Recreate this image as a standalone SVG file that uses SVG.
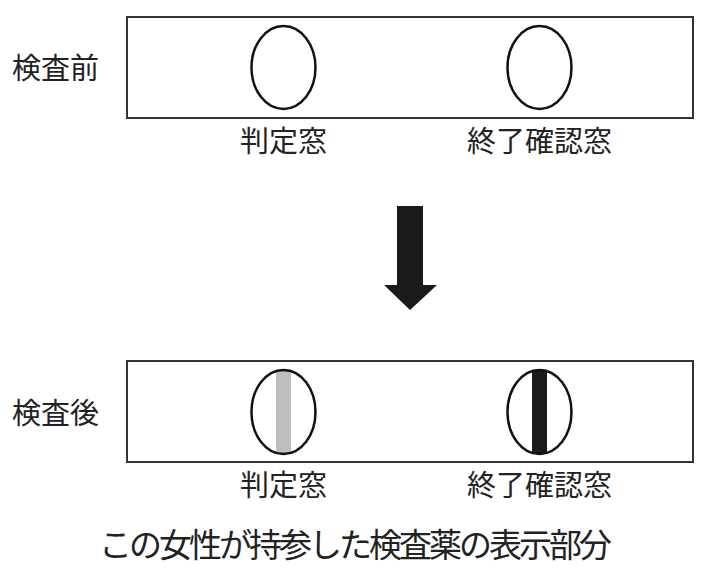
<svg xmlns="http://www.w3.org/2000/svg" width="709" height="578" viewBox="0 0 709 578">
<style>
.lbl{font-family:"Noto Sans CJK JP","Noto Sans CJK SC",sans-serif;font-size:29px;fill:#222}
.cap{font-family:"Noto Sans CJK JP","Noto Sans CJK SC",sans-serif;font-size:33px;letter-spacing:-3px;fill:#222}
.box{fill:#fff;stroke:#333;stroke-width:2}
.win{fill:#fff;stroke:#111;stroke-width:2.5}
.ring{fill:none;stroke:#111;stroke-width:2.5}
</style>
<rect width="709" height="578" fill="#fff"/>
<g id="before">
<text class="lbl" x="12" y="79">検査前</text>
<rect class="box" x="127" y="17" width="566" height="101"/>
<ellipse class="win" cx="283.5" cy="67.5" rx="32" ry="41.5"/>
<ellipse class="win" cx="539.5" cy="67.5" rx="32" ry="41.5"/>
<text class="lbl" x="283.5" y="152" text-anchor="middle">判定窓</text>
<text class="lbl" x="539.5" y="152" text-anchor="middle">終了確認窓</text>
</g>
<g id="connectors">
<polygon points="397,206 423,206 423,285 437,285 410,310 384,285 397,285" fill="#1a1a1a"/>
</g>
<g id="after">
<text class="lbl" x="12" y="424">検査後</text>
<rect class="box" x="127" y="361" width="566" height="101"/>
<rect x="276" y="370" width="15" height="84" fill="#bcbec0"/>
<ellipse class="ring" cx="283.5" cy="412" rx="32" ry="42"/>
<rect x="532" y="370" width="15" height="84" fill="#1a1a1a"/>
<ellipse class="ring" cx="539.5" cy="412" rx="32" ry="42"/>
<text class="lbl" x="283.5" y="496" text-anchor="middle">判定窓</text>
<text class="lbl" x="539.5" y="496" text-anchor="middle">終了確認窓</text>
</g>
<text class="cap" x="354" y="557" text-anchor="middle">この女性が持参した検査薬の表示部分</text>
</svg>
